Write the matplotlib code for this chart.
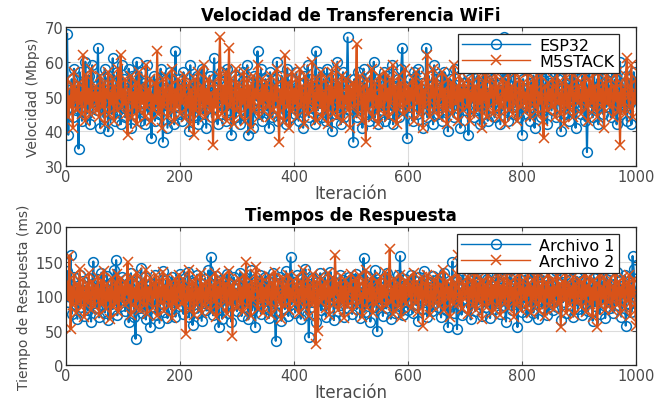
import numpy as np
import matplotlib
matplotlib.use('Agg')
import matplotlib.pyplot as plt

# Velocidad de transferencia WiFi (Mbps), una muestra cada 2 iteraciones
vel_esp32 = [
    68, 39, 52, 47, 55, 44, 58, 50, 46, 53, 35, 57, 49, 43, 54, 51, 60, 45, 48, 56, 42, 52, 59, 47, 50,
    53, 46, 64, 49, 41, 55, 51, 44, 58, 47, 52, 40, 56, 50, 45, 61, 48, 43, 54, 57, 46, 51, 42, 59, 49,
    55, 44, 50, 47, 58, 52, 41, 56, 49, 45, 53, 60, 46, 51, 43, 57, 48, 54, 42, 50, 59, 45, 52, 47, 38,
    49, 56, 43, 51, 47, 54, 45, 58, 50, 37, 52, 46, 55, 41, 49, 57, 44, 53, 48, 42, 63, 47, 51, 55, 45,
    50, 43, 57, 48, 54, 46, 52, 40, 59, 47, 51, 55, 44, 49, 56, 42, 53, 48, 58, 45, 50, 54, 41, 52, 47,
    56, 49, 44, 53, 61, 47, 51, 42, 55, 48, 57, 45, 50, 52, 43, 58, 46, 54, 49, 39, 53, 47, 56, 44, 51,
    48, 55, 42, 50, 57, 46, 52, 44, 59, 39, 51, 47, 54, 41, 56, 49, 53, 63, 45, 50, 58, 43, 52, 48, 55,
    46, 53, 41, 57, 49, 44, 55, 51, 47, 60, 43, 52, 48, 56, 45, 50, 54, 42, 58, 47, 51, 44, 55, 49, 53,
    45, 57, 50, 43, 54, 48, 52, 41, 56, 46, 51, 59, 44, 49, 55, 47, 53, 42, 63, 50, 46, 57, 48, 52, 44,
    55, 49, 43, 58, 51, 46, 53, 40, 56, 48, 52, 45, 60, 47, 54, 42, 50, 57, 44, 51, 48, 67, 46, 53, 49,
    52, 37, 55, 48, 44, 57, 50, 46, 53, 41, 58, 49, 45, 54, 51, 43, 56, 47, 52, 60, 44, 50, 55, 42, 48,
    54, 46, 51, 57, 43, 49, 56, 45, 52, 48, 59, 42, 53, 47, 50, 55, 44, 51, 58, 64, 46, 53, 49, 38, 52,
    47, 55, 50, 43, 57, 49, 53, 45, 58, 51, 46, 54, 41, 52, 48, 64, 44, 56, 50, 47, 53, 42, 59, 49, 55,
    45, 52, 48, 56, 43, 51, 57, 46, 54, 40, 50, 55, 47, 53, 44, 58, 49, 52, 45, 56, 41, 51, 48, 54, 46,
    53, 49, 39, 55, 47, 51, 58, 44, 50, 46, 56, 52, 42, 54, 48, 60, 45, 51, 57, 43, 49, 53, 47, 55, 50,
    44, 56, 51, 47, 54, 42, 52, 49, 67, 46, 55, 50, 43, 57, 48, 53, 45, 59, 51, 47, 54, 44, 52, 49, 39,
    55, 48, 52, 45, 58, 50, 43, 54, 47, 56, 41, 51, 53, 46, 60, 49, 44, 55, 50, 47, 57, 42, 52, 48, 54,
    46, 53, 49, 57, 44, 51, 55, 47, 40, 52, 48, 58, 45, 54, 50, 43, 56, 49, 53, 46, 59, 41, 51, 55, 47,
    52, 45, 56, 49, 43, 54, 34, 50, 57, 47, 53, 44, 58, 51, 46, 55, 42, 52, 48, 61, 45, 50, 54, 47, 56,
    49, 53, 44, 57, 51, 46, 55, 42, 52, 48, 60, 45, 54, 50, 47, 56, 43, 51, 55, 48, 42, 53, 57, 50, 54,
]
vel_m5stack = [
    55, 44, 50, 47, 53, 41, 57, 49, 52, 46, 54, 48, 51, 45, 62, 50, 43, 56, 48, 52, 45, 58, 47, 51, 49,
    53, 46, 51, 44, 56, 49, 47, 54, 42, 52, 50, 57, 45, 51, 48, 55, 43, 53, 49, 46, 58, 50, 62, 47, 52,
    48, 55, 45, 39, 52, 49, 56, 44, 51, 47, 54, 42, 50, 57, 46, 53, 48, 51, 44, 59, 47, 52, 49, 55, 43,
    50, 46, 54, 48, 63, 45, 52, 49, 41, 55, 47, 51, 56, 44, 50, 53, 46, 58, 49, 43, 52, 47, 55, 50, 45,
    53, 48, 51, 56, 44, 50, 47, 54, 42, 52, 49, 39, 55, 46, 51, 57, 45, 50, 53, 47, 59, 44, 52, 48, 55,
    46, 51, 49, 36, 54, 47, 52, 44, 56, 67, 50, 45, 53, 48, 57, 43, 51, 64, 47, 55, 49, 42, 52, 58, 46,
    50, 54, 45, 52, 48, 57, 43, 51, 55, 47, 53, 41, 49, 56, 46, 52, 50, 59, 44, 51, 48, 55, 46, 53, 49,
    54, 47, 51, 44, 56, 50, 46, 53, 49, 58, 45, 37, 52, 48, 55, 43, 62, 50, 47, 54, 41, 51, 57, 46, 52,
    48, 55, 44, 51, 58, 47, 53, 49, 42, 56, 50, 45, 54, 48, 52, 60, 46, 51, 43, 55, 49, 53, 47, 57, 44,
    51, 46, 55, 49, 42, 53, 48, 57, 45, 52, 50, 59, 44, 54, 47, 51, 56, 43, 50, 48, 55, 46, 53, 41, 52,
    49, 54, 47, 52, 65, 45, 51, 56, 48, 43, 53, 50, 37, 55, 46, 52, 49, 58, 44, 51, 54, 47, 50, 42, 56,
    47, 53, 50, 45, 57, 49, 52, 44, 55, 48, 51, 59, 46, 53, 42, 50, 56, 47, 54, 49, 45, 58, 51, 48, 53,
    46, 52, 49, 55, 43, 51, 57, 48, 53, 45, 50, 54, 41, 52, 47, 56, 62, 49, 44, 53, 50, 58, 46, 51, 55,
    48, 44, 53, 50, 57, 46, 52, 49, 42, 55, 51, 47, 54, 45, 59, 50, 48, 53, 43, 56, 49, 52, 46, 54, 50,
    52, 47, 55, 43, 51, 49, 58, 45, 53, 50, 46, 56, 48, 52, 41, 54, 49, 57, 44, 51, 47, 55, 50, 53, 45,
    51, 56, 48, 53, 44, 50, 47, 55, 52, 42, 54, 49, 58, 46, 51, 53, 45, 50, 57, 48, 43, 52, 55, 47, 50,
    54, 48, 51, 46, 57, 50, 44, 53, 49, 55, 47, 52, 59, 45, 51, 48, 56, 43, 38, 53, 50, 46, 54, 49, 52,
    47, 55, 50, 44, 53, 58, 48, 51, 45, 54, 49, 42, 56, 50, 47, 53, 46, 52, 57, 44, 51, 49, 55, 48, 53,
    50, 45, 54, 49, 56, 47, 52, 43, 55, 51, 48, 58, 46, 53, 50, 44, 57, 49, 52, 47, 54, 41, 51, 56, 48,
    52, 47, 55, 50, 44, 53, 49, 57, 46, 51, 36, 54, 48, 52, 45, 56, 61, 50, 47, 53, 59, 44, 51, 48, 55,
]

# Tiempos de respuesta (ms)
resp_archivo1 = [
    136, 92, 118, 160, 74, 105, 128, 88, 112, 67, 99, 131, 84, 108, 122, 71, 96, 115, 79, 126, 102, 63, 117, 150, 90,
    110, 83, 125, 69, 101, 134, 87, 114, 76, 97, 129, 65, 108, 93, 120, 81, 138, 99, 152, 72, 106, 119, 85, 127, 94,
    113, 78, 124, 91, 62, 105, 133, 86, 117, 70, 38, 98, 121, 82, 109, 140, 75, 102, 127, 66, 95, 115, 88, 55, 119,
    84, 107, 130, 73, 99, 118, 61, 111, 89, 136, 77, 104, 123, 68, 96, 114, 81, 128, 92, 108, 70, 121, 100, 86, 132,
    97, 115, 74, 126, 88, 103, 135, 69, 112, 93, 58, 120, 83, 107, 131, 76, 99, 117, 64, 110, 90, 125, 79, 104, 137,
    85, 156, 101, 72, 118, 94, 129, 80, 55, 108, 123, 67, 97, 114, 86, 132, 75, 106, 119, 63, 100, 127, 89, 111, 78,
    116, 92, 134, 71, 103, 125, 84, 98, 120, 66, 109, 138, 79, 95, 113, 55, 122, 87, 105, 130, 74, 99, 117, 82, 128,
    93, 110, 68, 124, 101, 85, 133, 77, 35, 107, 119, 90, 127, 64, 102, 115, 81, 136, 96, 71, 112, 156, 88, 104, 121,
    76, 99, 130, 86, 113, 67, 124, 95, 108, 139, 73, 101, 40, 118, 84, 126, 92, 110, 62, 121, 97, 105, 133, 79, 114,
    89, 127, 70, 103, 116, 82, 135, 94, 107, 65, 120, 98, 112, 78, 131, 87, 104, 123, 69, 100, 117, 83, 128, 91, 109,
    74, 119, 96, 132, 81, 106, 125, 68, 111, 93, 155, 77, 102, 129, 86, 115, 63, 99, 122, 84, 137, 97, 49, 108, 120,
    88, 113, 71, 126, 100, 82, 134, 95, 109, 67, 121, 90, 117, 76, 104, 130, 85, 158, 98, 114, 72, 124, 92, 107, 80,
    118, 94, 131, 75, 103, 122, 87, 110, 64, 127, 99, 116, 81, 136, 92, 105, 70, 120, 97, 112, 78, 129, 89, 101, 123,
    84, 107, 126, 69, 114, 95, 133, 80, 102, 55, 118, 91, 109, 150, 76, 121, 98, 52, 124, 87, 111, 73, 130, 96, 104,
    119, 83, 128, 100, 66, 113, 92, 135, 78, 106, 121, 88, 97, 130, 71, 115, 102, 84, 124, 93, 110, 68, 127, 99, 116,
    81, 105, 132, 90, 118, 74, 100, 125, 86, 112, 63, 121, 95, 108, 137, 79, 103, 117, 89, 128, 55, 110, 96, 123, 77,
    114, 92, 130, 70, 106, 120, 85, 98, 134, 76, 111, 101, 126, 67, 117, 93, 108, 82, 129, 99, 115, 73, 122, 88, 104,
    127, 79, 110, 96, 136, 84, 103, 118, 65, 121, 91, 107, 131, 75, 99, 114, 87, 124, 102, 70, 116, 94, 128, 81, 106,
    97, 122, 72, 113, 88, 134, 101, 78, 119, 93, 108, 64, 126, 85, 115, 99, 131, 74, 104, 120, 90, 110, 68, 125, 95,
    112, 83, 129, 101, 76, 118, 94, 135, 87, 107, 123, 70, 115, 98, 130, 57, 104, 120, 89, 111, 77, 158, 139, 92, 106,
]
resp_archivo2 = [
    120, 95, 158, 52, 112, 87, 131, 101, 76, 118, 92, 139, 84, 107, 125, 69, 103, 116, 90, 133, 98, 79, 121, 108, 86,
    114, 97, 128, 73, 105, 122, 89, 136, 100, 81, 117, 94, 110, 67, 126, 102, 85, 119, 92, 132, 77, 108, 124, 96, 113,
    88, 121, 104, 149, 91, 115, 72, 127, 99, 110, 83, 134, 96, 118, 79, 106, 123, 87, 101, 138, 74, 112, 93, 126, 105,
    82, 117, 98, 130, 71, 109, 122, 90, 103, 135, 78, 114, 95, 127, 86, 100, 119, 68, 111, 92, 124, 84, 107, 131, 97,
    116, 89, 125, 101, 45, 113, 94, 137, 80, 106, 120, 73, 99, 128, 87, 110, 96, 133, 76, 118, 102, 85, 121, 93, 108,
    126, 79, 104, 115, 91, 134, 70, 111, 98, 122, 86, 107, 129, 95, 117, 74, 102, 136, 88, 113, 42, 120, 97, 109, 83,
    103, 124, 90, 112, 77, 130, 99, 149, 85, 116, 106, 71, 121, 94, 108, 132, 142, 81, 101, 118, 92, 127, 75, 110, 97,
    115, 88, 129, 104, 72, 119, 96, 135, 83, 107, 123, 91, 100, 67, 126, 112, 86, 117, 98, 131, 80, 109, 94, 122, 102,
    89, 113, 127, 76, 105, 120, 93, 138, 84, 110, 99, 125, 71, 116, 102, 87, 132, 95, 30, 119, 50, 108, 128, 91, 114,
    97, 121, 82, 106, 134, 73, 111, 100, 126, 88, 160, 104, 118, 79, 95, 129, 90, 113, 68, 123, 101, 86, 117, 107, 132,
    78, 110, 96, 124, 85, 115, 131, 92, 103, 70, 120, 98, 137, 83, 108, 117, 94, 127, 75, 112, 101, 89, 122, 106, 93,
    128, 81, 114, 99, 135, 87, 105, 119, 168, 91, 110, 74, 125, 97, 116, 84, 102, 130, 69, 113, 95, 121, 88, 107, 126,
    100, 117, 83, 109, 134, 92, 104, 121, 77, 113, 97, 128, 57, 106, 119, 89, 131, 99, 72, 115, 103, 86, 124, 94, 111,
    129, 85, 101, 116, 93, 137, 79, 108, 122, 96, 112, 70, 126, 103, 88, 118, 98, 132, 160, 90, 107, 81, 120, 114, 95,
    106, 127, 74, 111, 99, 123, 87, 134, 102, 80, 117, 93, 128, 109, 67, 120, 96, 113, 84, 130, 101, 91, 125, 76, 115,
    98, 119, 86, 131, 105, 72, 114, 97, 126, 90, 108, 135, 82, 103, 121, 94, 111, 69, 127, 100, 88, 116, 133, 79, 107,
    122, 95, 109, 83, 130, 101, 118, 75, 112, 97, 127, 89, 104, 136, 78, 115, 93, 124, 106, 71, 119, 99, 131, 86, 110,
    96, 125, 81, 113, 102, 129, 90, 117, 55, 108, 121, 94, 134, 76, 105, 118, 87, 111, 99, 128, 73, 116, 103, 92, 123,
    107, 84, 120, 98, 132, 77, 114, 101, 126, 89, 110, 70, 123, 95, 117, 55, 105, 130, 86, 112, 97, 127, 80, 108, 119,
    91, 124, 103, 79, 115, 96, 133, 87, 109, 121, 74, 112, 99, 128, 83, 106, 118, 93, 131, 71, 114, 100, 125, 88, 57,
]

paso = 2  # iteraciones entre muestras
x_ticks = [0, 200, 400, 600, 800, 1000]

azul = '#0072BD'
naranja = '#D95319'
gris = '#4a4a4a'

plt.rcParams['font.family'] = ['DejaVu Sans']


def iteraciones(y):
    return np.arange(1, len(y) + 1) * paso


def estilo(ax, titulo, ylabel, ylim, yticks):
    ax.set_xlim(0, 1000)
    ax.set_ylim(*ylim)
    ax.set_xticks(x_ticks)
    ax.set_yticks(yticks)
    ax.set_title(titulo, fontsize=12, fontweight='bold', pad=5)
    ax.set_xlabel('Iteración', fontsize=12, color=gris, labelpad=0)
    ax.set_ylabel(ylabel, fontsize=10, color=gris, labelpad=3)
    ax.grid(True, color='#dcdcdc', linewidth=0.8)
    ax.set_axisbelow(True)
    ax.tick_params(direction='in', top=True, right=True, length=3,
                   labelsize=10.5, colors=gris, pad=2)
    for s in ax.spines.values():
        s.set_color('#262626')
        s.set_linewidth(0.9)


fig = plt.figure(figsize=(6.56, 4.06), dpi=100)
ax1 = fig.add_axes([0.1006, 0.5887, 0.8689, 0.3423])
ax2 = fig.add_axes([0.1006, 0.0985, 0.8689, 0.3399])

estilo_linea = dict(ms=7, lw=1.5, mew=1.1)

ax1.plot(iteraciones(vel_esp32), vel_esp32, 'o-', color=azul, mfc='none',
         label='ESP32', **estilo_linea)
ax1.plot(iteraciones(vel_m5stack), vel_m5stack, 'x-', color=naranja,
         label='M5STACK', **estilo_linea)
estilo(ax1, 'Velocidad de Transferencia WiFi', 'Velocidad (Mbps)', (30, 70),
       [30, 40, 50, 60, 70])

ax2.plot(iteraciones(resp_archivo1), resp_archivo1, 'o-', color=azul, mfc='none',
         label='Archivo 1', **estilo_linea)
ax2.plot(iteraciones(resp_archivo2), resp_archivo2, 'x-', color=naranja,
         label='Archivo 2', **estilo_linea)
estilo(ax2, 'Tiempos de Respuesta', 'Tiempo de Respuesta (ms)', (0, 200),
       [0, 50, 100, 150, 200])

for ax in (ax1, ax2):
    leg = ax.legend(loc='upper right', bbox_to_anchor=(1 - 17 / 570, 1 - 7 / 139),
                    borderaxespad=0, fontsize=11.5, handlelength=4.3,
                    fancybox=False, framealpha=1, borderpad=0.25,
                    labelspacing=0.05, handletextpad=0.6)
    leg.get_frame().set_edgecolor('#262626')
    leg.get_frame().set_linewidth(0.9)
    for h in leg.get_lines():
        h.set_linewidth(1.0)

fig.savefig('out.png', dpi=100)
